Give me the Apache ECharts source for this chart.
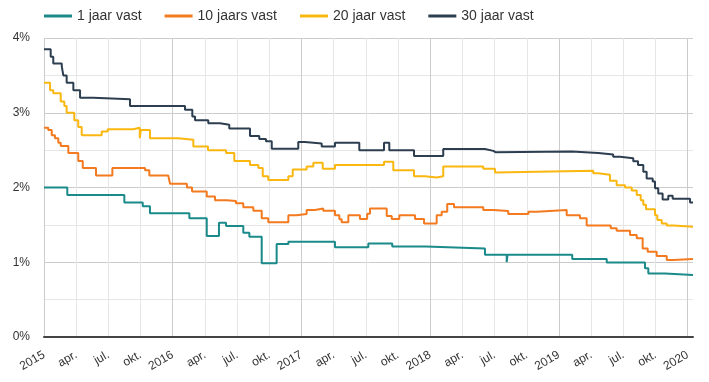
<!DOCTYPE html>
<html>
<head>
<meta charset="utf-8">
<script src="https://cdn.jsdelivr.net/npm/echarts@6/dist/echarts.min.js"></script>
<style>
html,body{margin:0;padding:0;background:#fff;}
#chart{width:709px;height:382px;}
</style>
</head>
<body>
<div id="chart"></div>
<script>
// Series names
var seriesNames = ['1 jaar vast', '10 jaars vast', '20 jaar vast', '30 jaar vast'];
// Quarter tick labels (between year labels)
var quarterLabels = ['apr.', 'jul.', 'okt.'];
// [decimal year, rate %] – value holds until the next point
var rate1 = [
  [2015.000, 2.00], [2015.181, 1.90], [2015.624, 1.80], [2015.767, 1.75], [2015.823, 1.655],
  [2016.129, 1.59], [2016.264, 1.35], [2016.359, 1.53], [2016.414, 1.485], [2016.548, 1.395],
  [2016.595, 1.34], [2016.691, 0.985], [2016.807, 1.245], [2016.898, 1.275], [2017.260, 1.20],
  [2017.519, 1.25], [2017.705, 1.21], [2017.965, 1.185], [2018.425, 1.10], [2018.594, 1.00],
  [2018.600, 1.10], [2019.103, 1.045], [2019.371, 0.995], [2019.668, 0.92], [2019.694, 0.85],
  [2019.823, 0.83], [2020.041, 0.83]
];
var rate10 = [
  [2015.000, 2.80], [2015.033, 2.77], [2015.060, 2.70], [2015.085, 2.66], [2015.111, 2.60],
  [2015.130, 2.555], [2015.189, 2.46], [2015.266, 2.355], [2015.301, 2.26], [2015.404, 2.16],
  [2015.531, 2.26], [2015.785, 2.23], [2015.818, 2.16], [2015.965, 2.15], [2015.979, 2.05],
  [2016.110, 2.00], [2016.150, 1.945], [2016.264, 1.88], [2016.328, 1.83], [2016.419, 1.82],
  [2016.491, 1.79], [2016.548, 1.735], [2016.626, 1.69], [2016.691, 1.59], [2016.742, 1.535],
  [2016.898, 1.63], [2016.963, 1.645], [2017.040, 1.70], [2017.105, 1.72], [2017.169, 1.69],
  [2017.260, 1.63], [2017.294, 1.575], [2017.312, 1.535], [2017.364, 1.63], [2017.454, 1.58],
  [2017.510, 1.65], [2017.532, 1.72], [2017.662, 1.62], [2017.701, 1.58], [2017.760, 1.63],
  [2017.882, 1.58], [2017.952, 1.52], [2018.050, 1.63], [2018.089, 1.675], [2018.132, 1.78],
  [2018.185, 1.735], [2018.412, 1.70], [2018.490, 1.685], [2018.606, 1.645], [2018.762, 1.675],
  [2018.827, 1.70], [2019.060, 1.63], [2019.163, 1.59], [2019.215, 1.49], [2019.402, 1.455],
  [2019.448, 1.42], [2019.552, 1.365], [2019.604, 1.32], [2019.650, 1.185], [2019.689, 1.14],
  [2019.759, 1.085], [2019.837, 1.03], [2019.888, 1.045], [2020.041, 1.045]
];
var rate20 = [
  [2015.000, 3.40], [2015.047, 3.30], [2015.072, 3.26], [2015.130, 3.15], [2015.158, 3.09],
  [2015.176, 3.00], [2015.235, 2.90], [2015.266, 2.81], [2015.293, 2.70], [2015.448, 2.75],
  [2015.495, 2.78], [2015.694, 2.80], [2015.744, 2.66], [2015.752, 2.77], [2015.823, 2.66],
  [2016.041, 2.64], [2016.160, 2.55], [2016.274, 2.50], [2016.414, 2.46], [2016.478, 2.355],
  [2016.600, 2.30], [2016.665, 2.26], [2016.699, 2.15], [2016.742, 2.10], [2016.898, 2.15],
  [2016.932, 2.24], [2017.040, 2.28], [2017.092, 2.33], [2017.165, 2.25], [2017.260, 2.30],
  [2017.641, 2.345], [2017.713, 2.23], [2017.874, 2.15], [2017.959, 2.135], [2018.050, 2.15],
  [2018.101, 2.28], [2018.412, 2.25], [2018.503, 2.20], [2018.510, 2.225], [2019.266, 2.19],
  [2019.305, 2.17], [2019.396, 2.09], [2019.448, 2.03], [2019.513, 2.00], [2019.565, 1.96],
  [2019.604, 1.90], [2019.635, 1.83], [2019.655, 1.77], [2019.676, 1.71], [2019.746, 1.63],
  [2019.764, 1.565], [2019.798, 1.52], [2019.837, 1.49], [2019.888, 1.475], [2020.041, 1.475]
];
var rate30 = [
  [2015.000, 3.85], [2015.052, 3.75], [2015.072, 3.66], [2015.138, 3.62], [2015.150, 3.50],
  [2015.176, 3.40], [2015.228, 3.30], [2015.280, 3.20], [2015.383, 3.18], [2015.668, 3.09],
  [2016.095, 3.04], [2016.152, 2.95], [2016.173, 2.90], [2016.276, 2.86], [2016.367, 2.84],
  [2016.439, 2.79], [2016.600, 2.69], [2016.672, 2.65], [2016.724, 2.62], [2016.769, 2.52],
  [2016.975, 2.61], [2017.027, 2.59], [2017.157, 2.55], [2017.260, 2.60], [2017.449, 2.50],
  [2017.641, 2.60], [2017.682, 2.50], [2017.874, 2.42], [2018.101, 2.515], [2018.425, 2.49],
  [2018.490, 2.47], [2018.510, 2.48], [2019.099, 2.46], [2019.305, 2.44], [2019.421, 2.41],
  [2019.474, 2.39], [2019.577, 2.35], [2019.614, 2.30], [2019.655, 2.21], [2019.681, 2.12],
  [2019.728, 2.08], [2019.746, 1.99], [2019.771, 1.92], [2019.805, 1.84], [2019.849, 1.89],
  [2019.883, 1.85], [2020.018, 1.80], [2020.041, 1.80]
];
var seriesData = [rate1, rate10, rate20, rate30];
var colors = ['#1a8a8a', '#f47a1f', '#f9b710', '#2c3e50'];

var FONT = '"Liberation Sans", Arial, sans-serif';
var chart = echarts.init(document.getElementById('chart'), null, {renderer: 'canvas'});
chart.setOption({
  animation: false,
  color: colors,
  textStyle: {fontFamily: FONT},
  legend: {
    left: 44, top: 9, padding: 0,
    icon: 'rect', itemWidth: 28, itemHeight: 3, itemGap: 23,
    textStyle: {fontSize: 14, color: '#333', fontFamily: FONT},
    data: seriesNames
  },
  grid: {left: 44, right: 16, top: 38, bottom: 45, containLabel: false, outerBoundsMode: 'none'},
  xAxis: {
    type: 'value', min: 2015, max: 2020.041, interval: 0.25,
    axisLine: {show: true, lineStyle: {color: '#444', width: 2}},
    axisTick: {show: false},
    axisLabel: {
      rotate: 30, margin: 17, fontSize: 12, color: '#333', fontFamily: FONT,
      showMaxLabel: false,
      formatter: function (v) {
        var q = Math.round((v - 2015) * 4);
        if (Math.abs((v - 2015) * 4 - q) > 1e-6) return '';
        var m = q % 4;
        return m === 0 ? String(2015 + q / 4) : quarterLabels[m - 1];
      }
    },
    splitLine: {show: true, showMaxLine: false, lineStyle: {color: ['#cccccc', '#e6e6e6', '#e6e6e6', '#e6e6e6'], width: 1}}
  },
  yAxis: {
    type: 'value', min: 0, max: 4, interval: 0.5,
    axisLine: {show: false}, axisTick: {show: false},
    axisLabel: {
      margin: 14, fontSize: 12, color: '#333', fontFamily: FONT,
      formatter: function (v) { return (Math.abs(v - Math.round(v)) < 1e-6) ? Math.round(v) + '%' : ''; }
    },
    splitLine: {show: true, lineStyle: {color: ['#cccccc', '#e6e6e6'], width: 1}}
  },
  series: seriesNames.map(function (name, i) {
    return {
      name: name, type: 'line', step: 'end', showSymbol: false, symbol: 'none',
      data: seriesData[i],
      lineStyle: {width: 2, color: colors[i]},
      itemStyle: {color: colors[i]}
    };
  })
});
</script>
</body>
</html>
